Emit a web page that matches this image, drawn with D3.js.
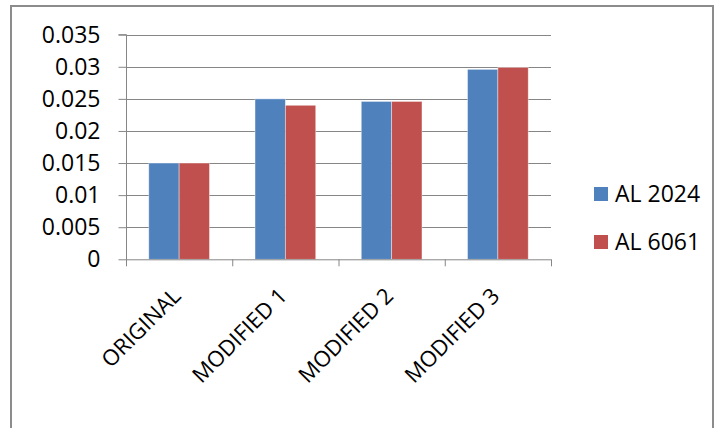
<!DOCTYPE html>
<html><head><meta charset="utf-8">
<script src="https://cdn.jsdelivr.net/npm/d3@7"></script>
<style>body{margin:0;background:#fff}svg{display:block}text{font-family:"Open Sans",sans-serif;fill:#000}</style>
</head><body>
<script>
const categories = ["ORIGINAL", "MODIFIED 1", "MODIFIED 2", "MODIFIED 3"];
const seriesNames = ["AL 2024", "AL 6061"];
const al2024 = [0.015, 0.025, 0.0246, 0.0296];
const al6061 = [0.015, 0.024, 0.0246, 0.0299];
const yTicks = [0, 0.005, 0.01, 0.015, 0.02, 0.025, 0.03, 0.035];
const yTickLabels = ["0", "0.005", "0.01", "0.015", "0.02", "0.025", "0.03", "0.035"];
const colors = ["#4F81BD", "#C0504D"];

const W = 720, H = 428;
const svg = d3.select("body").append("svg").attr("width", W).attr("height", H);
svg.append("rect").attr("x", 11).attr("y", 6).attr("width", 702).attr("height", 430)
  .attr("fill", "#fff").attr("stroke", "#8c8c8c").attr("stroke-width", 2);

const pLeft = 126, pRight = 551, pTop = 34.7, pBottom = 259.3;
const x = d3.scaleBand().domain(categories).range([pLeft, pRight]).paddingInner(0).paddingOuter(0);
const gapFrac = 1.5 / 3.5;
const x1 = d3.scaleBand().domain(seriesNames)
  .range([x.bandwidth() * gapFrac / 2, x.bandwidth() * (1 - gapFrac / 2)]).padding(0);
const y = d3.scaleLinear().domain([0, 0.035]).range([pBottom, pTop]);

// gridlines
svg.append("g").selectAll("line").data(yTicks.filter(d => d > 0)).join("line")
  .attr("x1", pLeft).attr("x2", pRight)
  .attr("y1", d => Math.round(y(d)) + 0.5).attr("y2", d => Math.round(y(d)) + 0.5)
  .attr("stroke", "#868686").attr("stroke-width", 1);

// bars
const data = categories.map((c, i) => ({c, vals: [al2024[i], al6061[i]]}));
const g = svg.append("g").selectAll("g").data(data).join("g")
  .attr("transform", d => `translate(${x(d.c)},0)`);
g.selectAll("rect").data(d => d.vals.map((v, j) => ({v, s: seriesNames[j], j}))).join("rect")
  .attr("x", d => x1(d.s)).attr("width", x1.bandwidth())
  .attr("y", d => y(d.v)).attr("height", d => y(0) - y(d.v))
  .attr("fill", d => colors[d.j]).attr("stroke", "rgba(255,255,255,0.5)").attr("stroke-width", 0.8);

// y axis
const yAxis = d3.axisLeft(y).tickValues(yTicks).tickSize(8).tickPadding(18)
  .tickFormat((d, i) => yTickLabels[i]);
const ya = svg.append("g").attr("transform", `translate(${pLeft + 0.5},0)`).call(yAxis);
ya.select(".domain").attr("stroke", "#868686").attr("d", `M-8,${pTop}H0V${pBottom + 6}`);
ya.selectAll(".tick line").attr("stroke", "#868686");
ya.selectAll(".tick text").style("font-size", "23px").attr("fill", "#000");

// x axis
const boundaries = [pLeft].concat(categories.map(c => x(c) + x.bandwidth()));
svg.append("line").attr("x1", pLeft).attr("x2", pRight).attr("y1", pBottom + 0.5).attr("y2", pBottom + 0.5)
  .attr("stroke", "#868686");
svg.append("g").selectAll("line").data(boundaries).join("line")
  .attr("x1", d => d + 0.5).attr("x2", d => d + 0.5).attr("y1", pBottom).attr("y2", pBottom + 7)
  .attr("stroke", "#868686");
svg.append("g").selectAll("text").data(categories).join("text")
  .attr("transform", c => `translate(${x(c) + x.bandwidth() / 2 + 3},${pBottom + 38}) rotate(-45)`)
  .attr("text-anchor", "end").style("font-size", "22px").text(c => c);

// legend
const lg = svg.append("g").selectAll("g").data(seriesNames).join("g")
  .attr("transform", (d, i) => `translate(594,${187 + i * 48})`);
lg.append("rect").attr("width", 14).attr("height", 14).attr("fill", (d, i) => colors[i]);
lg.append("text").attr("x", 21).attr("y", 15).style("font-size", "23px").text(d => d);
</script>
</body></html>
